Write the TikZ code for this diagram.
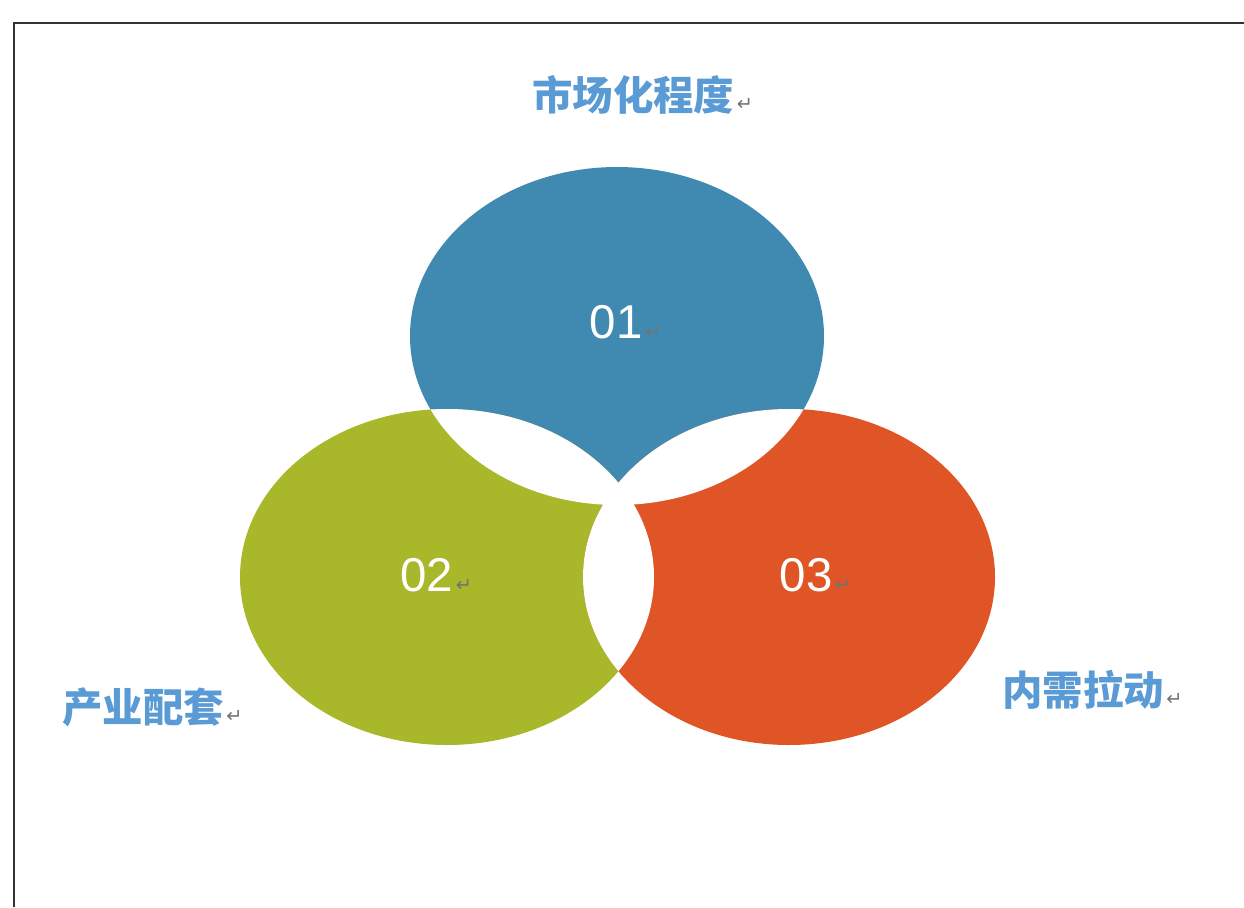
\documentclass[tikz,border=0pt]{standalone}
\usepackage{fontspec}
\setmainfont{Liberation Sans}
\newfontfamily\cjk{Noto Sans CJK SC}
\newfontfamily\symb{DejaVu Sans}
\usetikzlibrary{positioning}

\definecolor{ovalblue}{RGB}{64,138,178}
\definecolor{ovalgreen}{RGB}{168,184,42}
\definecolor{ovalorange}{RGB}{224,85,38}
\definecolor{labelblue}{RGB}{91,155,213}

\tikzset{
  title/.style={font=\cjk\bfseries\fontsize{23}{23}\selectfont, text=labelblue, inner sep=0pt},
  num/.style={font=\fontsize{27}{27}\selectfont, text=white, inner sep=0pt},
  pmark/.style={font=\symb\fontsize{11}{11}\selectfont, text=black!55, inner sep=0pt}
}

\begin{document}
\begin{tikzpicture}[x=0.02cm,y=-0.02cm]
		\useasboundingbox (0,0) rectangle (1244,907);
		\draw [line width=1.1pt,black!80] (14,907) -- (14,23) -- (1244,23); % frame
		\coordinate (c1) at (617,336);
		\coordinate (c2) at (447,577);
		\coordinate (c3) at (789,577);
		\fill [ovalblue] (c1) ellipse [x radius=207, y radius=169];
		\fill [ovalgreen] (c2) ellipse [x radius=207, y radius=168];
		\fill [ovalorange] (c3) ellipse [x radius=206, y radius=168];
		% overlaps
		\begin{scope}
			\clip (c1) ellipse [x radius=207, y radius=169];
			\fill [white] (c2) ellipse [x radius=207, y radius=168];
			\fill [white] (c3) ellipse [x radius=206, y radius=168];
		\end{scope}
		\begin{scope}
			\clip (c2) ellipse [x radius=207, y radius=168];
			\fill [white] (c3) ellipse [x radius=206, y radius=168];
		\end{scope}
		% numbers
		\node [num] (n1) at (616,322) {01};
		\node [num] (n2) at (427,575) {02};
		\node [num] (n3) at (806,575) {03};
		\node [pmark,anchor=base west] (m1) at ([xshift=1pt]n1.base east) {↵};
		\node [pmark,anchor=base west] (m2) at ([xshift=1pt]n2.base east) {↵};
		\node [pmark,anchor=base west] (m3) at ([xshift=1pt]n3.base east) {↵};
		% labels
		\node [title,anchor=west] (t1) at (532,95) {市场化程度};
		\node [title,anchor=west] (t2) at (62,707) {产业配套};
		\node [title,anchor=west] (t3) at (1002,690) {内需拉动};
		\node [pmark,anchor=base west] (m4) at ([xshift=1pt]t1.base east) {↵};
		\node [pmark,anchor=base west] (m5) at ([xshift=1pt]t2.base east) {↵};
		\node [pmark,anchor=base west] (m6) at ([xshift=1pt]t3.base east) {↵};
\end{tikzpicture}
\end{document}
